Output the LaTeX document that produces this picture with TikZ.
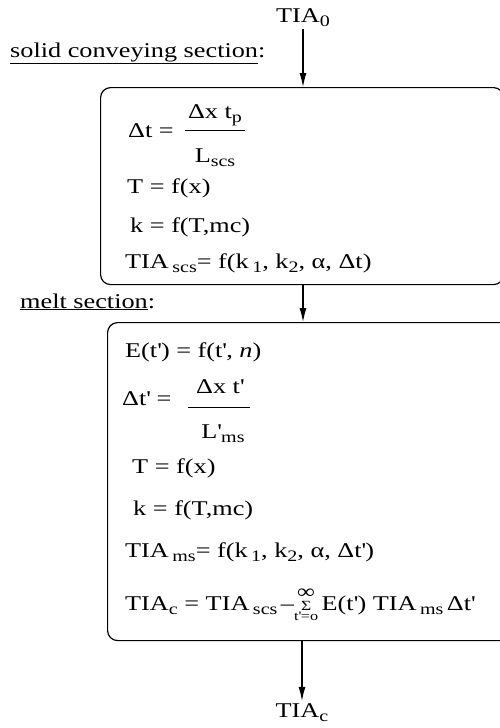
\documentclass[tikz,border=0pt]{standalone}
\usepackage{fontspec}
\setmainfont{Liberation Serif}[FakeStretch=1.25]
\usetikzlibrary{arrows.meta, positioning, calc}

\newcommand{\eqfont}{\fontsize{21}{25}\selectfont}
\newcommand{\lo}[1]{\raisebox{-4.5pt}{\fontsize{16}{16}\selectfont #1}}
\newcommand{\pr}{\textquotesingle}
\newcommand{\sumstack}{$\mathop{\hbox{\fontsize{14}{14}\selectfont Σ}}\limits^{\hbox{\fontsize{20}{20}\selectfont ∞}}_{\hbox{\fontsize{13}{13}\selectfont t\pr=o}}$}

\begin{document}
\begin{tikzpicture}[x=1pt, y=-1pt,
  box/.style={draw, line width=1.2pt, rounded corners=10pt, inner sep=0pt},
  eq/.style={anchor=base west, inner sep=0pt, font=\eqfont},
  frc/.style={anchor=base, inner sep=0pt, font=\eqfont},
  bar/.style={line width=1pt},
  flow/.style={-{Latex[length=14pt,width=7pt]}, line width=1.1pt}]
  \useasboundingbox (0,0) rectangle (500,728);

  % sections
  \node[box, anchor=north west, minimum width=403pt, minimum height=197pt] (scs) at (100,87) {};
  \node[box, anchor=north west, minimum width=405pt, minimum height=318pt] (ms) at (107,322) {};
  \node[eq] (lblscs) at (10,57) {\underline{solid conveying section}:};
  \node[eq] (lblms) at (20,308) {\underline{melt section}:};

  % in / out
  \node[frc, inner sep=2pt] (tia0) at (303,22) {TIA\lo{0}};
  \node[frc, inner sep=2pt] (tiac) at (302,717) {TIA\lo{c}};

  % solid conveying section
  \node[eq] (dt) at (128,137) {Δt =};
  \node[frc] (dtnum) at (215,118) {Δx t\lo{p}};
  \node[frc] (dtden) at (215,162) {L\lo{scs}};
  \draw[bar] (185,130) -- (245,130);
  \node[eq] (tscs) at (127,193) {T = f(x)};
  \node[eq] (kscs) at (130,232) {k = f(T,mc)};
  \node[eq] (tiascs) at (125,268) {TIA\,\lo{scs}= f(k\,\lo{1}, k\lo{2}, α, Δt)};

  % melt section
  \node[eq] (et) at (125,357) {E(t\pr) = f(t\pr, \textit{n})};
  \node[eq] (dtp) at (122,405) {Δt\pr{} =};
  \node[frc] (dtpnum) at (220,393) {Δx t\pr};
  \node[frc] (dtpden) at (223,438) {L\pr\lo{ms}};
  \draw[bar] (188,407) -- (250,407);
  \node[eq] (tms) at (132,473) {T = f(x)};
  \node[eq] (kms) at (133,515) {k = f(T,mc)};
  \node[eq] (tiams) at (125,557) {TIA\,\lo{ms}= f(k\,\lo{1}, k\lo{2}, α, Δt\pr)};
  \node[eq] (tiaceq) at (125,610) {TIA\lo{c} = TIA\,\lo{scs}\,–\sumstack\,E(t\pr) TIA\,\lo{ms}\,Δt\pr};

  \draw[flow] (tia0) -- (tia0 |- scs.north);
  \draw[flow] (scs.south -| tia0) -- (ms.north -| tia0);
  \draw[flow] (ms.south -| tiac) -- (tiac);
\end{tikzpicture}
\end{document}
